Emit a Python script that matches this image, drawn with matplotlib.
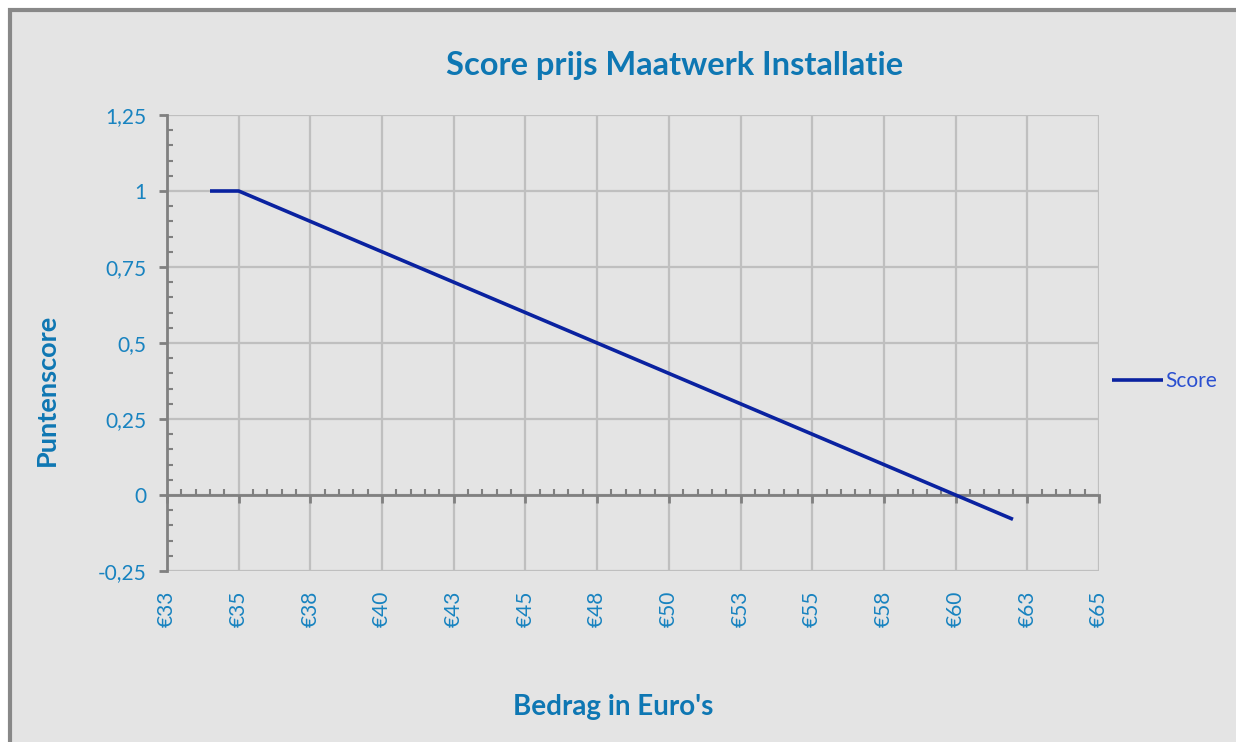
import matplotlib
matplotlib.use("Agg")
import matplotlib.pyplot as plt
from matplotlib.patches import Rectangle
from matplotlib.ticker import MultipleLocator, FuncFormatter

# -------------------------------
# Data
# -------------------------------
bedrag = [34, 35, 37, 38.5, 40, 42.5, 45, 47.5, 50, 52.5, 55, 57.5, 59, 60, 62]
score = [1, 1, 0.92, 0.86, 0.8, 0.7, 0.6, 0.5, 0.4, 0.3, 0.2, 0.1, 0.04, 0, -0.08]

TITLE = "Score prijs Maatwerk Installatie"
XLABEL = "Bedrag in Euro's"
YLABEL = "Puntenscore"
SERIES = "Score"

XLIM = (32.5, 65)
YLIM = (-0.25, 1.25)

# -------------------------------
# Styles
# -------------------------------
BG = "#e4e4e4"
GRID = "#bfbfbf"
AXIS = "#808080"
TXT = "#1883c0"
TITLE_C = "#0e77b3"
LINE = "#0a22a0"

plt.rcParams["font.family"] = ["Lato", "DejaVu Sans"]

fig = plt.figure(figsize=(12.36, 7.42), dpi=100)
fig.patch.set_facecolor("white")
# chart frame (cut off at right and bottom like in the screenshot)
fig.patches.append(Rectangle((10 / 1236, -0.05), 1.1, 1 - 10 / 742 + 0.05,
                             transform=fig.transFigure, facecolor=BG,
                             edgecolor="#888888", linewidth=3, zorder=-10))

rect = [167 / 1236, 1 - 571 / 742, (1099 - 167) / 1236, (571 - 115) / 742]
ax = fig.add_axes(rect)
ax.set_facecolor("none")

ax.set_xlim(*XLIM)
ax.set_ylim(*YLIM)

ax.xaxis.set_major_locator(MultipleLocator(2.5))
ax.yaxis.set_major_locator(MultipleLocator(0.25))
ax.yaxis.set_minor_locator(MultipleLocator(0.05))
ax.xaxis.set_major_formatter(FuncFormatter(lambda v, p: "€%d" % int(v + 0.5)))
ax.yaxis.set_major_formatter(FuncFormatter(lambda v, p: ("%g" % round(v, 2)).replace(".", ",")))

ax.grid(True, which="major", color=GRID, linewidth=1.6)
ax.set_axisbelow(True)

for s in ["top", "right", "bottom"]:
    ax.spines[s].set_visible(False)
ax.spines["left"].set_color(AXIS)
ax.spines["left"].set_linewidth(2)

ax.tick_params(axis="y", which="major", direction="out", length=6, width=2,
               color=AXIS, labelcolor=TXT, labelsize=15, pad=9)
ax.tick_params(axis="y", which="minor", direction="in", length=4, width=1.5, color=AXIS)
ax.tick_params(axis="x", which="both", length=0, labelcolor=TXT, labelsize=15,
               labelrotation=90, pad=14)

# horizontal axis crossing at zero (overlay axes with the same limits)
ax0 = fig.add_axes(rect)
ax0.set_facecolor("none")
ax0.set_xlim(*XLIM)
ax0.set_ylim(*YLIM)
for s in ["top", "right", "left"]:
    ax0.spines[s].set_visible(False)
ax0.spines["bottom"].set_position(("data", 0))
ax0.spines["bottom"].set_color(AXIS)
ax0.spines["bottom"].set_linewidth(2)
ax0.xaxis.set_major_locator(MultipleLocator(2.5))
ax0.xaxis.set_minor_locator(MultipleLocator(0.5))
ax0.tick_params(axis="x", which="major", direction="out", length=6, width=2,
                color=AXIS, labelbottom=False)
ax0.tick_params(axis="x", which="minor", direction="in", length=4, width=1.5,
                color=AXIS)
ax0.tick_params(axis="y", which="both", left=False, labelleft=False)

ax0.plot(bedrag, score, color=LINE, linewidth=2.6, label=SERIES, zorder=5,
         solid_capstyle="butt")

fig.text(675 / 1236, 1 - 66 / 742, TITLE, ha="center", va="center",
         fontsize=23.5, fontweight="bold", color=TITLE_C)
fig.text(613 / 1236, 1 - 707 / 742, XLABEL, ha="center", va="center",
         fontsize=20, fontweight="bold", color=TITLE_C)
fig.text(47 / 1236, 1 - 390 / 742, YLABEL, ha="center", va="center", rotation=90,
         fontsize=19.5, fontweight="bold", color=TITLE_C)

leg = ax0.legend(loc="center left", bbox_to_anchor=(1.0, (571 - 381) / (571 - 115)),
                 frameon=False, fontsize=15, handlelength=2.45, handletextpad=0.15,
                 borderaxespad=0.2)
for t in leg.get_texts():
    t.set_color("#2a4fd0")

fig.savefig("out.png", dpi=100, facecolor=fig.get_facecolor())
